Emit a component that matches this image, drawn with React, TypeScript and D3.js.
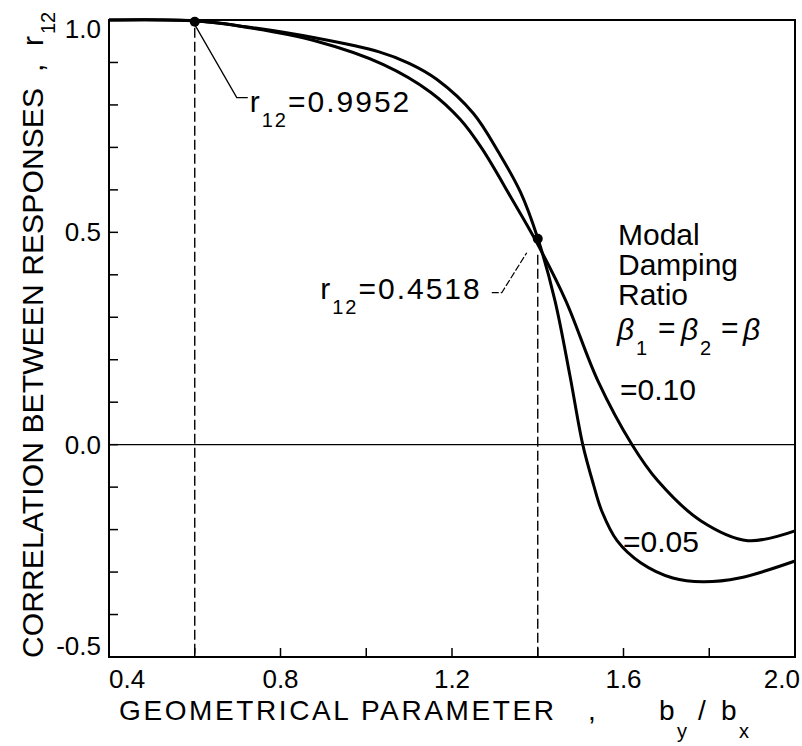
import React from "react";
import * as d3 from "d3";

// b_y / b_x values
const xBeta005 = [0.4, 0.6, 0.72, 0.88, 1.03, 1.1, 1.165, 1.25, 1.31, 1.36, 1.4, 1.44, 1.475, 1.505, 1.53, 1.55, 1.585, 1.64, 1.715, 1.785, 1.87, 2.0];
const rBeta005 = [1.0, 0.998, 0.984, 0.958, 0.925, 0.898, 0.86, 0.78, 0.686, 0.594, 0.486, 0.34, 0.163, 0.0, -0.094, -0.158, -0.226, -0.278, -0.314, -0.323, -0.314, -0.274];

const xBeta010 = [0.4, 0.6, 0.72, 0.88, 1.04, 1.15, 1.22, 1.27, 1.34, 1.395, 1.465, 1.54, 1.62, 1.68, 1.78, 1.89, 2.0];
const rBeta010 = [1.0, 0.998, 0.983, 0.951, 0.895, 0.83, 0.765, 0.697, 0.578, 0.481, 0.34, 0.151, 0.0, -0.085, -0.179, -0.226, -0.203];

// marked points (dots + dashed drop lines)
const markX = [0.6, 1.4];
const markR = [0.996, 0.485];
const markText = ["0.9952", "0.4518"];

const xLabels = [0.4, 0.8, 1.2, 1.6, 2.0];
const yLabels = [1.0, 0.5, 0.0, -0.5];

const FONT = "'Liberation Sans', Arial, sans-serif";

export default function App() {
  const width = 802;
  const height = 746;
  const left = 109, right = 795, top = 20, bottom = 657;

  const x = d3.scaleLinear().domain([0.4, 2.0]).range([left, right]);
  const y = d3.scaleLinear().domain([-0.5, 1.0]).range([bottom, top]);

  const line = d3
    .line<[number, number]>()
    .x(d => x(d[0]))
    .y(d => y(d[1]))
    .curve(d3.curveCatmullRom.alpha(0.5));

  const s005 = xBeta005.map((v, i) => [v, rBeta005[i]] as [number, number]);
  const s010 = xBeta010.map((v, i) => [v, rBeta010[i]] as [number, number]);

  const xTicks = x.ticks(8).filter(t => t > 0.41 && t < 1.99);
  const yTicks = y.ticks(15).filter(t => t > -0.49 && t < 0.99);

  const m1 = { px: x(markX[0]), py: y(markR[0]) };
  const m2 = { px: x(markX[1]), py: y(markR[1]) };

  return (
    <svg
      width={width}
      height={height}
      style={{ position: "absolute", left: 0, top: 0, background: "#fff" }}
      fontFamily={FONT}
    >
      {/* frame */}
      <rect x={left} y={top} width={right - left} height={bottom - top} fill="none" stroke="#000" strokeWidth={2} />

      {/* zero line */}
      <line x1={left} x2={right} y1={y(0)} y2={y(0)} stroke="#000" strokeWidth={1.2} />

      {/* ticks */}
      {yTicks.map(t => (
        <line key={"yt" + t} x1={left} x2={left + 9} y1={y(t)} y2={y(t)} stroke="#000" strokeWidth={1.5} />
      ))}
      {xTicks.map(t => (
        <line key={"xt" + t} x1={x(t)} x2={x(t)} y1={bottom} y2={bottom - 9} stroke="#000" strokeWidth={1.5} />
      ))}

      {/* tick labels */}
      {yLabels.map((t, i) => (
        <text
          key={"yl" + t}
          x={left - 8}
          y={y(t) + (i === 0 ? 18 : i === yLabels.length - 1 ? -2 : 9)}
          textAnchor="end"
          fontSize={26}
        >
          {t.toFixed(1)}
        </text>
      ))}
      {xLabels.map((t, i) => (
        <text
          key={"xl" + t}
          x={i === xLabels.length - 1 ? x(t) + 5 : x(t)}
          y={688}
          textAnchor={i === 0 ? "start" : i === xLabels.length - 1 ? "end" : "middle"}
          fontSize={26}
        >
          {t.toFixed(1)}
        </text>
      ))}

      {/* dashed drop lines */}
      <line x1={m1.px} x2={m1.px} y1={m1.py + 6} y2={bottom} stroke="#000" strokeWidth={1.4} strokeDasharray="10,4" />
      <line x1={m2.px} x2={m2.px} y1={m2.py + 16} y2={bottom} stroke="#000" strokeWidth={1.4} strokeDasharray="10,4" />

      {/* curves */}
      <path d={line(s005) || ""} fill="none" stroke="#000" strokeWidth={3} />
      <path d={line(s010) || ""} fill="none" stroke="#000" strokeWidth={3} />

      {/* dots */}
      <circle cx={m1.px} cy={m1.py} r={5} fill="#000" />
      <circle cx={m2.px} cy={m2.py} r={5} fill="#000" />

      {/* annotation 1 */}
      <polyline
        points={`${m1.px},${m1.py + 3} ${m1.px + 42},${m1.py + 76} ${m1.px + 53},${m1.py + 76}`}
        fill="none"
        stroke="#000"
        strokeWidth={1.3}
      />
      <text x={m1.px + 55} y={m1.py + 90} fontSize={30} letterSpacing={2}>
        r<tspan dy={15} fontSize={20}>12</tspan>
        <tspan dy={-15}>={markText[0]}</tspan>
      </text>

      {/* annotation 2 */}
      <polyline
        points={`${m2.px - 46},${m2.py + 54} ${m2.px - 36},${m2.py + 54} ${m2.px - 11},${m2.py + 14}`}
        fill="none"
        stroke="#000"
        strokeWidth={1.2}
        strokeDasharray="7,2"
      />
      <text x={m2.px - 56} y={m2.py + 60} fontSize={30} letterSpacing={2} textAnchor="end">
        r<tspan dy={15} fontSize={20}>12</tspan>
        <tspan dy={-15}>={markText[1]}</tspan>
      </text>

      {/* legend block */}
      <g fontSize={30}>
        <text x={618} y={245}>Modal</text>
        <text x={618} y={275}>Damping</text>
        <text x={618} y={305}>Ratio</text>
        <text x={617} y={340} fontStyle="italic">β</text>
        <text x={636} y={355} fontSize={20}>1</text>
        <text x={658} y={338}>=</text>
        <text x={681} y={340} fontStyle="italic">β</text>
        <text x={700} y={355} fontSize={20}>2</text>
        <text x={721} y={338}>=</text>
        <text x={743} y={340} fontStyle="italic">β</text>
        <text x={620} y={400}>=0.10</text>
        <text x={623} y={552}>=0.05</text>
      </g>

      {/* x axis title */}
      <g fontSize={28}>
        <text x={119} y={720} textLength={435} lengthAdjust="spacing">GEOMETRICAL PARAMETER</text>
        <text x={588} y={720}>,</text>
        <text x={659} y={720}>b</text>
        <text x={677} y={738} fontSize={20}>y</text>
        <text x={698} y={720}>/</text>
        <text x={721} y={720}>b</text>
        <text x={739} y={738} fontSize={20}>x</text>
      </g>

      {/* y axis title */}
      <g transform="translate(43,658) rotate(-90)" fontSize={30}>
        <text x={0} y={0} textLength={570} lengthAdjust="spacing">CORRELATION BETWEEN RESPONSES</text>
        <text x={586} y={0}>,</text>
        <text x={612} y={0}>r</text>
        <text x={624} y={12} fontSize={20}>12</text>
      </g>
    </svg>
  );
}
